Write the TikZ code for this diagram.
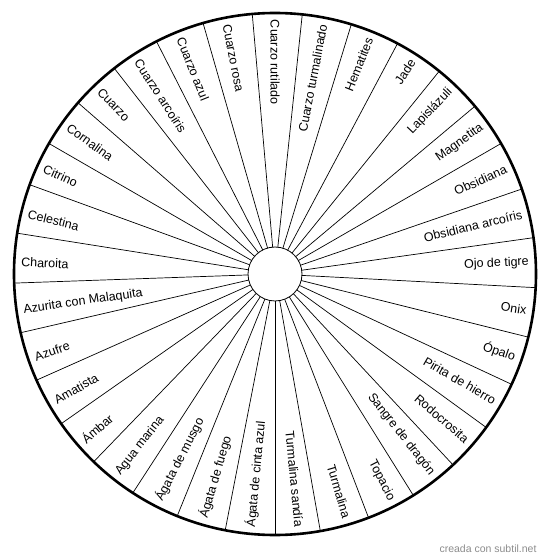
\documentclass[tikz,border=0pt]{standalone}
\usepackage{fontspec}
\setmainfont{Liberation Sans}
\begin{document}
\begin{tikzpicture}[x=1pt,y=1pt,every node/.style={font=\fontsize{12.5}{15}\selectfont,inner sep=0pt,outer sep=0pt}]
\useasboundingbox (-275,-285) rectangle (275,274);
% Rim and hub
\node[draw,line width=2.6pt,circle,minimum size=522pt] (rim) at (0,0) {};
\node[draw,line width=0.8pt,circle,minimum size=54pt,fill=white] (hub) at (0,0) {};
% Spokes
\foreach \k in {0,...,32} \draw[line width=0.7pt] (hub.{270+\k*360/33}) -- (rim.{270+\k*360/33});
% Labels, clockwise from the bottom
\foreach \name [count=\k from 0] in {Ágata de cinta azul,Ágata de fuego,Ágata de musgo,Agua marina,Ámbar,Amatista,Azufre,Azurita con Malaquita,Charoita,Celestina,Citrino,Cornalina,Cuarzo,Cuarzo arcoíris,Cuarzo azul,Cuarzo rosa,Cuarzo rutilado,Cuarzo turmalinado,Hematites,Jade,Lapislázuli,Magnetita,Obsidiana,Obsidiana arcoíris,Ojo de tigre,Onix,Ópalo,Pirita de hierro,Rodocrosita,Sangre de dragón,Topacio,Turmalina,Turmalina sandía}{
  \pgfmathsetmacro\a{264.5454-\k*360/33}
  \pgfmathtruncatemacro\lft{(\a>89.9)?1:0}
  \ifnum\lft=1
    \node[anchor=west,rotate=\a-180] (lab\k) at (\a:254) {\name};
  \else
    \node[anchor=east,rotate=\a] (lab\k) at (\a:254) {\name};
  \fi
}
\node[font=\fontsize{10.5}{12}\selectfont,text=black!45] (credit) at (213,-275) {creada con subtil.net};
\end{tikzpicture}
\end{document}
